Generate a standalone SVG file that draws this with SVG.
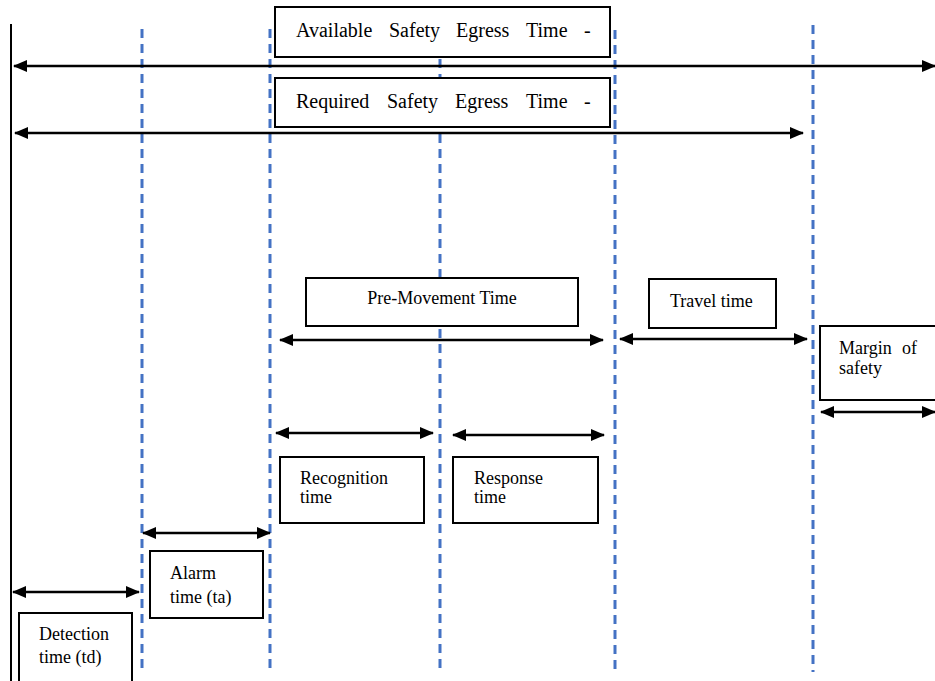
<svg xmlns="http://www.w3.org/2000/svg" width="935" height="681" viewBox="0 0 935 681">
<style>
.dash{stroke:#4472C4;stroke-width:3;stroke-dasharray:9 6;fill:none}
.box{fill:#fff;stroke:#000;stroke-width:2}
.arr{stroke:#000;stroke-width:2.5;fill:none;marker-start:url(#ah);marker-end:url(#ah)}
.lbl{font-size:18px;fill:#000}
.big{font-size:20px;fill:#000}
</style>
<defs>
<marker id="ah" viewBox="0 0 14 12" refX="13" refY="6" markerWidth="14" markerHeight="12" markerUnits="userSpaceOnUse" orient="auto-start-reverse">
<path d="M0,0 L14,6 L0,12 z" fill="#000"/>
</marker>
</defs>
<rect width="935" height="681" fill="#fff"/>
<g id="axes">
<line x1="11" y1="24" x2="11" y2="681" stroke="#000" stroke-width="2"/>
<line class="dash" x1="142" y1="29" x2="142" y2="672"/>
<line class="dash" x1="270" y1="29" x2="270" y2="672"/>
<line class="dash" x1="440" y1="29" x2="440" y2="672"/>
<line class="dash" x1="615" y1="30" x2="615" y2="672"/>
<line class="dash" x1="813" y1="25" x2="813" y2="672"/>
</g>
<g id="connectors">
<line class="arr" x1="14" y1="66" x2="935" y2="66"/>
<line class="arr" x1="15" y1="133" x2="803" y2="133"/>
<line class="arr" x1="280" y1="340" x2="603" y2="340"/>
<line class="arr" x1="620" y1="339" x2="807" y2="339"/>
<line class="arr" x1="821" y1="412" x2="935" y2="412"/>
<line class="arr" x1="276" y1="433" x2="433" y2="433"/>
<line class="arr" x1="453" y1="435" x2="604" y2="435"/>
<line class="arr" x1="143" y1="533" x2="270" y2="533"/>
<line class="arr" x1="13" y1="592" x2="139" y2="592"/>
</g>
<g font-family="'Liberation Serif', 'DejaVu Serif', serif">
<g id="aset">
<rect class="box" x="275" y="7" width="335" height="50"/>
<text class="big" y="37"><tspan x="296">Available</tspan><tspan x="389">Safety</tspan><tspan x="456">Egress</tspan><tspan x="526">Time</tspan><tspan x="584">-</tspan></text>
</g>
<g id="rset">
<rect class="box" x="275" y="78" width="335" height="49"/>
<text class="big" y="108"><tspan x="296">Required</tspan><tspan x="387">Safety</tspan><tspan x="455">Egress</tspan><tspan x="526">Time</tspan><tspan x="584">-</tspan></text>
</g>
<g id="premovement">
<rect class="box" x="306" y="278" width="272" height="48"/>
<text class="lbl" x="442" y="304" text-anchor="middle">Pre-Movement Time</text>
</g>
<g id="travel">
<rect class="box" x="649" y="279" width="127" height="49"/>
<text class="lbl" x="670" y="307">Travel time</text>
</g>
<g id="margin">
<rect class="box" x="820" y="326" width="120" height="74"/>
<text class="lbl" x="839" y="354">Margin<tspan x="902">of</tspan></text>
<text class="lbl" x="839" y="374">safety</text>
</g>
<g id="recognition">
<rect class="box" x="280" y="457" width="144" height="66"/>
<text class="lbl" x="300" y="484">Recognition</text>
<text class="lbl" x="300" y="503">time</text>
</g>
<g id="response">
<rect class="box" x="453" y="457" width="145" height="66"/>
<text class="lbl" x="474" y="484">Response</text>
<text class="lbl" x="474" y="503">time</text>
</g>
<g id="alarm">
<rect class="box" x="150" y="551" width="113" height="67"/>
<text class="lbl" x="170" y="579">Alarm</text>
<text class="lbl" x="170" y="603">time (ta)</text>
</g>
<g id="detection">
<rect class="box" x="19" y="613" width="113" height="75"/>
<text class="lbl" x="39" y="640">Detection</text>
<text class="lbl" x="39" y="663">time (td)</text>
</g>
</g>
</svg>
